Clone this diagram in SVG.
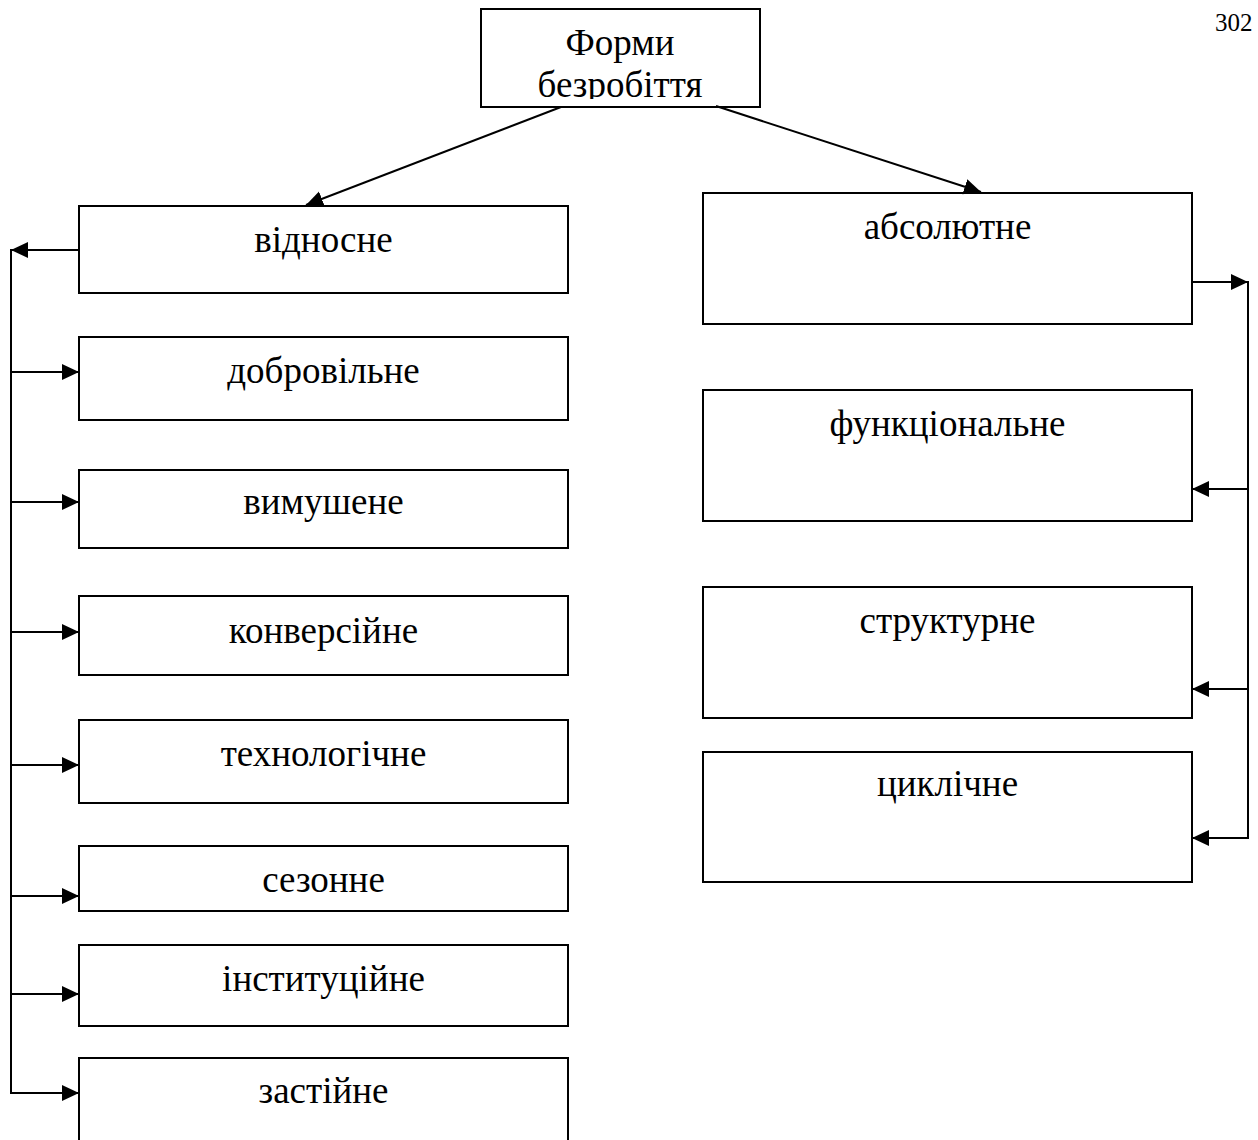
<svg xmlns="http://www.w3.org/2000/svg" width="1258" height="1140" viewBox="0 0 1258 1140">
  <style>
    .box { fill: #ffffff; stroke: #000000; stroke-width: 2; }
    .lbl { font-family: "Liberation Serif", "Times New Roman", serif; font-size: 37px; fill: #000000; text-anchor: middle; }
    .wire { fill: none; stroke: #000000; stroke-width: 2; }
    .page { font-family: "Liberation Serif", "Times New Roman", serif; font-size: 25px; fill: #000000; }
  </style>
  <defs>
    <marker id="arrow" markerUnits="userSpaceOnUse" markerWidth="17" markerHeight="17" viewBox="0 0 17 17" refX="17" refY="8.5" orient="auto">
      <path d="M0,0.5 L17,8.5 L0,16.5 Z" fill="#000000"/>
    </marker>
    <clipPath id="topClip">
      <rect x="481" y="9" width="279" height="90"/>
    </clipPath>
  </defs>

  <rect width="1258" height="1140" fill="#ffffff"/>

  <text class="page" x="1215" y="31">302</text>

  <!-- root -->
  <g id="root">
    <rect class="box" x="481" y="9" width="279" height="98"/>
    <g clip-path="url(#topClip)">
      <text class="lbl" x="620" y="55">Форми</text>
      <text class="lbl" x="620" y="97">безробіття</text>
    </g>
  </g>

  <!-- left column -->
  <g id="vidnosne">
    <rect class="box" x="79" y="206" width="489" height="87"/>
    <text class="lbl" x="323.5" y="252">відносне</text>
  </g>
  <g id="dobrovilne">
    <rect class="box" x="79" y="337" width="489" height="83"/>
    <text class="lbl" x="323.5" y="383">добровільне</text>
  </g>
  <g id="vymushene">
    <rect class="box" x="79" y="470" width="489" height="78"/>
    <text class="lbl" x="323.5" y="514">вимушене</text>
  </g>
  <g id="konversiine">
    <rect class="box" x="79" y="596" width="489" height="79"/>
    <text class="lbl" x="323.5" y="643">конверсійне</text>
  </g>
  <g id="tekhnolohichne">
    <rect class="box" x="79" y="720" width="489" height="83"/>
    <text class="lbl" x="323.5" y="766">технологічне</text>
  </g>
  <g id="sezonne">
    <rect class="box" x="79" y="846" width="489" height="65"/>
    <text class="lbl" x="323.5" y="892">сезонне</text>
  </g>
  <g id="instytutsiine">
    <rect class="box" x="79" y="945" width="489" height="81"/>
    <text class="lbl" x="323.5" y="991">інституційне</text>
  </g>
  <g id="zastiine">
    <path class="box" d="M79,1142 L79,1058 L568,1058 L568,1142"/>
    <text class="lbl" x="323.5" y="1103">застійне</text>
  </g>

  <!-- right column -->
  <g id="absoliutne">
    <rect class="box" x="703" y="193" width="489" height="131"/>
    <text class="lbl" x="947.5" y="239">абсолютне</text>
  </g>
  <g id="funktsionalne">
    <rect class="box" x="703" y="390" width="489" height="131"/>
    <text class="lbl" x="947.5" y="436">функціональне</text>
  </g>
  <g id="strukturne">
    <rect class="box" x="703" y="587" width="489" height="131"/>
    <text class="lbl" x="947.5" y="633">структурне</text>
  </g>
  <g id="tsyklichne">
    <rect class="box" x="703" y="752" width="489" height="130"/>
    <text class="lbl" x="947.5" y="796">циклічне</text>
  </g>

  <!-- connectors -->
  <g id="connectors">
    <line class="wire" x1="561" y1="107" x2="306" y2="205" marker-end="url(#arrow)"/>
    <line class="wire" x1="716" y1="106" x2="981" y2="192" marker-end="url(#arrow)"/>

    <line class="wire" x1="79" y1="250" x2="11" y2="250" marker-end="url(#arrow)"/>
    <line class="wire" x1="11" y1="249" x2="11" y2="1094"/>
    <line class="wire" x1="11" y1="372" x2="79" y2="372" marker-end="url(#arrow)"/>
    <line class="wire" x1="11" y1="502" x2="79" y2="502" marker-end="url(#arrow)"/>
    <line class="wire" x1="11" y1="632" x2="79" y2="632" marker-end="url(#arrow)"/>
    <line class="wire" x1="11" y1="765" x2="79" y2="765" marker-end="url(#arrow)"/>
    <line class="wire" x1="11" y1="896" x2="79" y2="896" marker-end="url(#arrow)"/>
    <line class="wire" x1="11" y1="994" x2="79" y2="994" marker-end="url(#arrow)"/>
    <line class="wire" x1="11" y1="1093" x2="79" y2="1093" marker-end="url(#arrow)"/>

    <line class="wire" x1="1192" y1="282" x2="1248" y2="282" marker-end="url(#arrow)"/>
    <line class="wire" x1="1248" y1="281" x2="1248" y2="839"/>
    <line class="wire" x1="1248" y1="489" x2="1192" y2="489" marker-end="url(#arrow)"/>
    <line class="wire" x1="1248" y1="689" x2="1192" y2="689" marker-end="url(#arrow)"/>
    <line class="wire" x1="1248" y1="838" x2="1192" y2="838" marker-end="url(#arrow)"/>
  </g>
</svg>
